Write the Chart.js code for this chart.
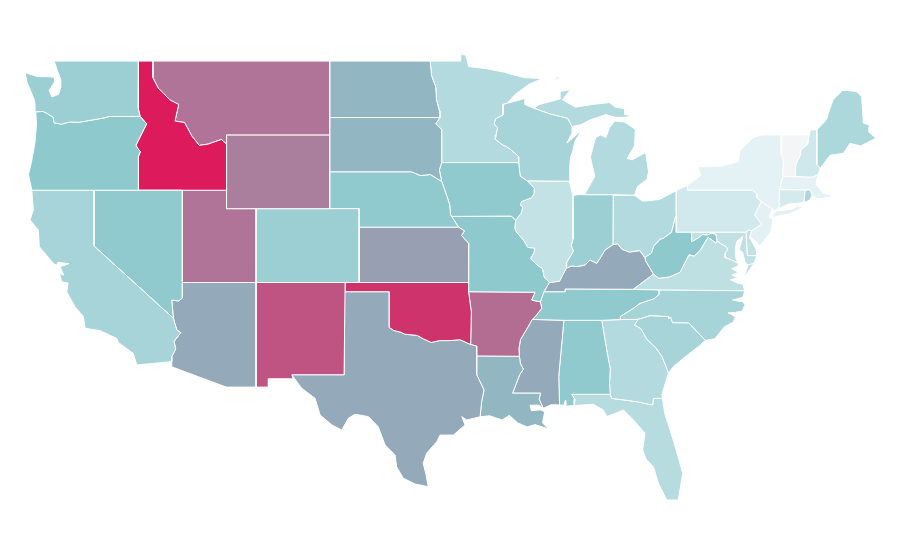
<!DOCTYPE html>
<html>
<head>
<meta charset="utf-8">
<title>US states</title>
<script src="https://cdn.jsdelivr.net/npm/chart.js@4"></script>
<style>
  html, body { margin: 0; padding: 0; background: #fff; }
  canvas { display: block; }
</style>
</head>
<body>
<canvas id="myChart" width="900" height="560"></canvas>
<script>
// shared borders, [lon, lat]
const redRiverN = [[-97.23,49],[-97.13,48.2],[-96.85,47.6],[-96.8,46.9],[-96.6,46.3],[-96.56,45.94]];
const sdMn = [[-96.56,45.94],[-96.85,45.6],[-96.45,45.3],[-96.45,43.5]];
const sdIa = [[-96.45,43.5],[-96.6,43.1],[-96.45,42.49]];
const neSd = [[-104.05,43],[-98.5,43],[-97.9,42.8],[-97.2,42.85],[-96.7,42.6],[-96.45,42.49]];
const neIa = [[-96.45,42.49],[-96.1,41.7],[-95.9,41.2],[-95.85,40.7],[-95.77,40.58]];
const neMo = [[-95.77,40.58],[-95.31,40]];
const ksMo = [[-95.31,40],[-94.9,39.8],[-95.1,39.55],[-94.61,39.11],[-94.62,37]];
const mnWi = [[-92.02,46.71],[-92.29,46.66],[-92.29,46.08],[-92.8,45.87],[-92.88,45.57],[-92.65,45.4],[-92.76,45],[-92.8,44.75],[-92.3,44.45],[-91.9,44.29],[-91.25,43.85],[-91.22,43.5]];
const iaWi = [[-91.22,43.5],[-91.15,43],[-91.1,42.75],[-90.64,42.51]];
const iaIl = [[-90.64,42.51],[-90.42,42.33],[-90.16,42.12],[-90.18,41.8],[-90.34,41.6],[-91.03,41.38],[-91.1,41.2],[-90.95,41.07],[-91.05,40.75],[-91.42,40.38]];
const moIl = [[-91.42,40.38],[-91.48,39.94],[-91.37,39.73],[-90.9,39.3],[-90.6,38.9],[-90.12,38.85],[-90.19,38.6],[-90.42,38.3],[-89.9,37.9],[-89.6,37.75],[-89.5,37.3],[-89.13,37]];
const arTn = [[-89.75,35.95],[-89.65,35.6],[-90.1,35.15],[-90.3,35]];
const arMs = [[-90.3,35],[-90.58,34.6],[-90.95,34.1],[-91.1,33.9],[-91.2,33.4],[-91.17,33]];
const laMs = [[-91.17,33],[-91.1,32.6],[-90.9,32.3],[-91.15,32],[-91.63,31],[-89.73,31],[-89.83,30.67],[-89.55,30.18]];
const wabash = [[-87.53,39.35],[-87.65,39],[-87.5,38.7],[-87.95,38.1],[-87.98,37.78]];
const inKy = [[-87.98,37.78],[-87.6,37.9],[-87.28,37.86],[-86.71,37.95],[-86.37,38.22],[-85.92,38.04],[-85.7,38.3],[-85.36,38.76],[-84.82,39.05]];
const ohKy = [[-84.82,39.05],[-84.5,39.1],[-84.2,38.8],[-83.7,38.65],[-83,38.73],[-82.65,38.35]];
const ohWv = [[-82.65,38.35],[-82.2,38.6],[-82.07,38.95],[-81.62,39.35],[-81.4,39.4],[-80.85,39.72],[-80.6,40.5],[-80.52,40.64]];
const potomacN = [[-79.48,39.2],[-78.95,39.45],[-78.75,39.6],[-78.4,39.57],[-78.1,39.67],[-77.83,39.6],[-77.75,39.25]];
const potomacS = [[-77.75,39.25],[-77.5,39.1],[-77.12,38.93],[-77.04,38.79],[-77.2,38.6],[-77.2,38.35],[-76.85,38.25],[-76.35,38.05]];
const vaWv = [[-77.75,39.25],[-77.83,39.13],[-78.36,39.45],[-78.87,38.77],[-79.3,38.42],[-79.65,38.5],[-80.26,37.55],[-80.95,37.3],[-81.7,37.22],[-82.07,37.45]];
const kyWv = [[-82.07,37.45],[-82.6,38.17],[-82.65,38.35]];
const tnNc = [[-81.7,36.59],[-81.7,36.35],[-82.03,36.12],[-82.98,35.87],[-83.5,35.57],[-84.33,35.15],[-84.32,34.99]];
const ncSc = [[-83.11,35],[-82.3,35.2],[-81.04,35.15],[-81.04,35.05],[-80.9,35.1],[-80.78,34.82],[-79.67,34.8],[-78.55,33.86]];
const gaSc = [[-83.11,35],[-83.35,34.7],[-82.9,34.48],[-82.55,33.95],[-81.9,33.45],[-81.5,33],[-81.15,32.3],[-81.06,32.08]];
const alGa = [[-85.58,34.95],[-85.24,33.34],[-85,32.3],[-85.05,31.55],[-85,30.94]];
const gaFl = [[-84.9,30.72],[-83.2,30.54],[-82.12,30.36],[-82.07,30.72],[-81.6,30.72],[-81.45,30.71]];
const alMs = [[-88.15,34.95],[-88.5,31.9],[-88.44,30.36]];
const alFl = [[-85,30.94],[-87.62,30.94],[-87.4,30.67],[-87.45,30.33]];
const columbia = [[-116.92,46],[-119,46],[-119.3,45.93],[-120,45.83],[-121.1,45.68],[-121.7,45.7],[-122.25,45.58],[-122.75,45.65],[-122.82,45.95],[-123.2,46.15],[-123.5,46.27],[-124,46.25]];
const snake = [[-116.92,46],[-116.47,45.6],[-116.85,45],[-117.2,44.44],[-117.05,44.23],[-116.9,44.1],[-117.03,43.83],[-117.03,42]];
const idMt = [[-116.05,49],[-116.05,48.1],[-115.7,47.55],[-114.9,46.9],[-114.3,46.65],[-114.55,45.75],[-113.9,45.67],[-113.4,44.93],[-112.9,44.43],[-112.3,44.5],[-111.4,44.75],[-111.05,44.5]];
const caAz = [[-114.66,35.06],[-114.43,34.43],[-114.16,34.28],[-114.62,33.8],[-114.5,33.4],[-114.77,32.98],[-114.77,32.71]];
const redRiverS = [[-100,34.56],[-99.7,34.4],[-99.2,34.3],[-98.95,34.2],[-98.1,34.13],[-97.7,33.95],[-97.15,33.75],[-96.6,33.85],[-95.9,33.85],[-95.2,33.9],[-94.48,33.64]];
const sabine = [[-94.07,33.02],[-94.07,32],[-93.57,31.17],[-93.73,30.55],[-93.84,29.72]];
const delaware = [[-75.35,42],[-75.05,41.8],[-75.05,41.6],[-74.75,41.38],[-75.05,40.9],[-75.2,40.65],[-74.72,40.15],[-75.4,39.8]];
const vtNh = [[-71.5,45],[-71.6,44.5],[-72.05,44.2],[-72.1,43.9],[-72.4,43.4],[-72.46,42.73]];
const back = (line) => [...line].reverse();

const stateNames = ["Washington","Oregon","California","Nevada","Idaho","Montana","Wyoming","Utah","Arizona","New Mexico","Colorado","North Dakota","South Dakota","Nebraska","Kansas","Oklahoma","Texas","Minnesota","Iowa","Missouri","Arkansas","Louisiana","Wisconsin","Illinois","Michigan","Indiana","Ohio","Kentucky","Tennessee","Mississippi","Alabama","Georgia","Florida","South Carolina","North Carolina","Virginia","West Virginia","Maryland","District of Columbia","Delaware","Pennsylvania","New Jersey","New York","Connecticut","Rhode Island","Massachusetts","Vermont","New Hampshire","Maine"];

const stateValues = [44,50,39,49,100,75,72,75,60,84,44,56,56,49,63,93,60,33,49,50,77,56,39,26,33,44,33,60,49,60,49,33,31,39,39,28,50,27,50,26,19,11,10,18,36,10,0,20,36];

// one list of rings per state, same order as stateNames
const stateShapes = [
  [[[-124.73,48.38],[-123.9,48.16],[-123.1,48.15],[-122.75,48.12],[-122.7,47.9],[-123.1,47.4],[-122.9,47.05],[-122.45,47.2],[-122.3,47.6],[-122.3,48],[-122.5,48.4],[-122.75,49],[-117.03,49],[-117.04,46.42],...columbia,[-124.05,46.65],[-124.1,46.9],[-124.3,47.3],[-124.6,47.85]]],
  [[...back(columbia),...snake,[-124.27,42],[-124.4,42.5],[-124.5,42.85],[-124.3,43.5],[-124.05,44.6],[-123.95,45.6]]],
  [[[-124.27,42],[-120.05,42],[-120.05,38.98],...caAz,[-117.15,32.53],[-117.38,33.16],[-118.4,33.75],[-118.5,33.97],[-119.64,34.39],[-120.65,34.52],[-120.77,35.15],[-121.34,35.69],[-121.9,36.5],[-121.8,36.97],[-122.24,37.04],[-122.4,37.5],[-122.1,37.4],[-122.35,37.85],[-121.75,38.02],[-122.5,38.1],[-122.58,37.92],[-122.81,38.04],[-123.76,38.94],[-123.83,39.85],[-124.39,40.39],[-124.17,40.93]]],
  [[[-120.05,42],[-114.05,42],[-114.05,36.16],[-114.32,36],[-114.77,36.05],[-114.66,35.06],[-120.05,38.98]]],
  [[[-117.03,49],...idMt,[-111.05,42],...back(snake),[-117.04,46.42]]],
  [[[-116.05,49],[-104.05,49],[-104.05,45],[-111.05,45],...back(idMt)]],
  [[[-111.05,45],[-104.05,45],[-104.05,41],[-111.05,41]]],
  [[[-114.05,42],[-111.05,42],[-111.05,41],[-109.05,41],[-109.05,37],[-114.05,37]]],
  [[[-114.05,37],[-109.05,37],[-109.05,31.33],[-111.07,31.33],[-114.77,32.43],...back(caAz),[-114.77,36.05],[-114.32,36],[-114.05,36.16]]],
  [[[-109.05,37],[-103,37],[-103.07,32],[-106.62,32],[-106.53,31.78],[-108.21,31.78],[-108.21,31.33],[-109.05,31.33]]],
  [[[-109.05,41],[-102.05,41],[-102.05,37],[-109.05,37]]],
  [[[-104.05,49],...redRiverN,[-104.05,45.94]]],
  [[[-104.05,45.94],...sdMn,...sdIa,...back(neSd)]],
  [[...neSd,...neIa,...neMo,[-102.05,40],[-102.05,41],[-104.05,41]]],
  [[[-102.05,40],...ksMo,[-102.05,37]]],
  [[[-103,37],[-94.62,37],[-94.62,36.5],[-94.43,35.4],...back(redRiverS),[-100,36.5],[-103,36.5]]],
  [[[-103.04,36.5],[-100,36.5],...redRiverS,[-94.07,33.55],...sabine,[-94.75,29.55],[-95.08,29.73],[-94.86,29.28],[-95.65,28.73],[-96.55,28.73],[-96.78,28.37],[-97.46,27.75],[-97.7,27.2],[-97.53,26.66],[-97.35,25.93],[-98.25,26.08],[-99.05,26.39],[-99.5,27],[-99.61,27.65],[-100.29,28.2],[-100.75,29.18],[-101.42,29.73],[-102.33,29.86],[-102.78,29.64],[-103.23,29],[-103.9,29.28],[-104.7,29.82],[-105.04,30.72],[-105.95,31.27],[-106.62,32],[-103.07,32]]],
  [[[-97.23,49],[-95.15,49],[-95.15,49.38],[-94.82,49.32],[-94.6,48.7],[-93.5,48.6],[-92.2,48.4],[-91.65,48.27],[-90.8,48.1],[-89.6,48.05],[-90.5,47.75],[-91.45,47.2],...mnWi,[-96.45,43.5],...back(sdMn),...back(redRiverN)]],
  [[[-96.45,43.5],[-91.22,43.5],...iaWi,...iaIl,[-91.73,40.6],[-95.77,40.58],...back(neIa),...back(sdIa)]],
  [[[-95.77,40.58],[-91.73,40.6],...moIl,[-89.5,36.5],[-89.75,35.95],[-90.33,36.05],[-90.1,36.47],[-94.62,36.5],...back(ksMo),...back(neMo)]],
  [[[-94.62,36.5],[-90.1,36.47],[-90.33,36.05],...arTn,...arMs,[-94.07,33.02],[-94.07,33.55],[-94.48,33.64],[-94.43,35.4]]],
  [[...back(sabine),...laMs,[-89.85,30.35],[-90.45,30.35],[-90.35,30.05],[-89.75,30.1],[-89.45,30],[-89.6,29.4],[-89.2,29.06],[-90.1,29.3],[-90.65,29.17],[-91.3,29.4],[-91.85,29.8],[-92.35,29.55],[-93.2,29.78]]],
  [[...mnWi,...iaWi,[-87.8,42.49],[-87.75,43.3],[-87.7,43.8],[-87.55,44.1],[-87.4,44.65],[-86.95,45.25],[-87.95,44.55],[-87.6,45.1],[-87.6,45.45],[-87.9,45.9],[-89.1,46.13],[-90.2,46.45],[-90.8,46.65],[-90.8,46.98],[-91.25,46.87]]],
  [[[-90.64,42.51],[-87.8,42.49],[-87.53,41.72],...wabash,[-88.45,37.07],[-89.13,37],...back(moIl),...back(iaIl)]],
  [
    [[-86.75,41.76],[-84.8,41.76],[-83.35,41.73],[-83.15,42.2],[-82.5,42.6],[-82.4,43],[-82.6,44.05],[-83.5,43.65],[-83.85,43.72],[-83.35,44.4],[-83.3,45.3],[-84.05,45.7],[-84.7,45.75],[-85.05,45.4],[-85.3,44.85],[-85.65,45],[-86,44.85],[-86.35,43.8],[-86.05,42.75]],
    [[-90.2,46.45],[-89.8,46.65],[-88.4,46.95],[-88.4,47.35],[-87.7,47.45],[-88.25,46.9],[-87.35,46.5],[-86.2,46.65],[-85.05,46.75],[-84.65,46.5],[-84,46.43],[-84,46.1],[-83.5,46.05],[-84,45.95],[-84.65,45.95],[-85.3,46.1],[-86.4,45.8],[-87,45.55],[-87.6,45.45],[-87.9,45.9],[-89.1,46.13]],
    [[-89.2,47.85],[-88.5,48.17],[-88.45,48.08]]
  ],
  [[[-87.53,41.72],[-87.2,41.76],[-84.8,41.76],[-84.82,39.05],...back(inKy),...back(wabash)]],
  [[[-84.8,41.72],[-83.35,41.73],[-82.8,41.4],[-81.65,41.5],[-80.52,41.98],[-80.52,40.64],...back(ohWv),...back(ohKy)]],
  [[...kyWv,...back(ohKy),...back(inKy),[-88.45,37.07],[-89.13,37],[-89.5,36.5],[-88.07,36.5],[-88.07,36.65],[-83.45,36.63]]],
  [[[-81.7,36.59],[-83.45,36.63],[-88.07,36.65],[-88.07,36.5],[-89.5,36.5],...arTn,[-88.15,34.95],[-85.58,34.95],...back(tnNc)]],
  [[[-90.3,35],...alMs,[-89,30.38],...back(laMs),...back(arMs)]],
  [[[-88.15,34.95],[-85.58,34.95],...alGa.slice(1),...alFl,[-87.95,30.3],[-88,30.6],[-88.07,30.6],[-88.12,30.35],...back(alMs).slice(0,2)]],
  [[[-85.58,34.95],[-84.32,34.99],...gaSc,[-81.2,31.7],[-81.5,30.9],...back(gaFl),...back(alGa)]],
  [[[-87.45,30.33],[-86.15,30.4],[-85.47,30.09],[-85.24,29.73],[-84.1,30.09],[-83.43,29.55],[-82.64,28.83],[-82.8,27.92],[-82.55,27.4],[-82.07,27.02],[-81.73,26.12],[-81.17,25.21],[-80.38,25.21],[-80.08,26.66],[-80.7,28.4],[-81.3,29.9],...back(gaFl),...alFl]],
  [[...ncSc,[-78.9,33.6],[-80.03,32.9],[-80.7,32.45],[-81.06,32.08],...back(gaSc)]],
  [[[-75.87,36.55],[-81.7,36.59],...tnNc,...ncSc,[-77.9,33.95],[-77.25,34.6],[-76.65,34.85],[-76.5,35.15],[-77,35.35],[-76.5,35.38],[-76.05,35.45],[-75.85,35.8],[-76,35.95],[-76.7,36.05],[-76,36.2]]],
  [
    [[-75.87,36.55],[-81.7,36.59],[-83.45,36.63],...back(vaWv),...potomacS,[-76.3,37.9],[-76.75,37.75],[-76.3,37.55],[-76.75,37.4],[-76.35,37.25],[-76.85,37.15],[-76.35,36.97],[-76,36.9]],
    [[-75.95,37.15],[-75.65,37.95],[-75.25,38.03],[-75.7,37.5]]
  ],
  [[...kyWv,...ohWv,[-80.52,39.72],[-79.48,39.72],...potomacN,...vaWv]],
  [[[-79.48,39.72],[-75.79,39.72],[-75.7,38.46],[-75.05,38.45],[-75.25,38.03],[-75.65,37.95],[-75.85,38.1],[-76,38.6],[-76.25,38.8],[-76.1,39.2],[-76,39.5],[-76.4,39.25],[-76.5,38.9],[-76.5,38.4],...back(potomacS),...back(potomacN)]],
  [[[-77.12,38.93],[-77.04,39],[-76.91,38.89],[-77.04,38.79]]],
  [[[-75.79,39.72],[-75.6,39.84],[-75.4,39.8],[-75.55,39.45],[-75.1,38.8],[-75.05,38.45],[-75.7,38.46]]],
  [[[-80.52,41.98],[-79.76,42.27],[-79.76,42],...delaware,[-75.6,39.84],[-75.79,39.72],[-80.52,39.72]]],
  [[[-74.75,41.38],[-74,40.98],[-74.2,40.55],[-73.95,40.4],[-74.1,39.75],[-74.85,38.97],[-75.25,39.3],[-75.55,39.5],[-75.4,39.8],[-74.72,40.15],[-75.2,40.65],[-75.05,40.9]]],
  [
    [[-79.76,42.27],[-78.85,42.8],[-79.05,43.27],[-77.5,43.3],[-76.3,43.55],[-76.2,44.15],[-75.3,44.85],[-74.7,45],[-73.35,45],[-73.4,44],[-73.25,43.6],[-73.3,42.75],[-73.5,42.05],[-73.55,41.3],[-73.48,41.21],[-73.65,41],[-73.8,40.85],[-74,40.98],[-74.75,41.38],[-75.05,41.6],[-75.05,41.8],[-75.35,42],[-79.76,42]],
    [[-74.03,40.6],[-73.75,40.87],[-72.6,40.98],[-72.3,41.15],[-71.87,41.07],[-72.8,40.72],[-73.9,40.55]]
  ],
  [[[-73.5,42.03],[-71.78,42.01],[-71.85,41.33],[-72.9,41.25],[-73.65,41],[-73.48,41.21],[-73.55,41.3]]],
  [[[-71.78,42.01],[-71.44,42.01],[-71.3,41.74],[-71.44,41.47],[-71.85,41.33]]],
  [[[-73.5,42.03],[-73.3,42.75],[-72.46,42.73],[-71.3,42.7],[-70.87,42.85],[-70.98,42.55],[-71,42.3],[-70.65,41.95],[-70.53,41.83],[-70.03,41.74],[-70.05,42.05],[-70.2,42.07],[-69.95,41.9],[-69.97,41.65],[-70.65,41.55],[-70.98,41.56],[-71.3,41.74],[-71.44,42.01],[-71.78,42.01]]],
  [[[-73.35,45],...vtNh,[-73.3,42.75],[-73.25,43.6],[-73.4,44]]],
  [[[-71.5,45],[-71.4,45.27],[-70.98,45.27],[-70.98,43.4],[-70.75,43.19],[-70.87,42.85],[-71.3,42.7],...back(vtNh)]],
  [[[-70.98,45.27],[-70.4,45.75],[-70.25,45.95],[-70.2,46.17],[-69.87,46.9],[-69.21,47.43],[-68.3,47.35],[-67.93,47.07],[-67.82,45.64],[-67.41,45.53],[-67.47,45.17],[-66.96,44.82],[-68,44.4],[-68.73,44.54],[-69.18,44],[-70.07,43.9],[-70.75,43.19],[-70.98,43.4]]]
];

// colour scale: value -> colour
const scaleValues = [0, 10, 50, 60, 100];
const scaleColors = [[244,245,246],[229,242,245],[142,201,205],[148,170,186],[220,26,92]];

function colorFor(value) {
  let i = 0;
  while (i < scaleValues.length - 2 && value > scaleValues[i + 1]) i++;
  const t = (value - scaleValues[i]) / (scaleValues[i + 1] - scaleValues[i]);
  const rgb = scaleColors[i].map((c, k) => Math.round(c + (scaleColors[i + 1][k] - c) * t));
  return `rgb(${rgb.join(",")})`;
}

const datasets = [];
stateShapes.forEach((rings, s) => {
  rings.forEach((ring) => {
    const points = ring.map((p) => ({ x: p[0], y: p[1] }));
    points.push(points[0]);
    datasets.push({
      label: stateNames[s],
      data: points,
      showLine: true,
      fill: "shape",
      backgroundColor: colorFor(stateValues[s]),
      borderColor: "#ffffff",
      borderWidth: 1,
      pointRadius: 0,
      tension: 0,
    });
  });
});

new Chart(document.getElementById("myChart"), {
  type: "scatter",
  data: { datasets: datasets },
  options: {
    responsive: false,
    animation: false,
    layout: { padding: 0 },
    plugins: { legend: { display: false } },
    scales: {
      x: { type: "linear", display: false, min: -126.43, max: -65.33 },
      y: { type: "linear", display: false, min: 21.96, max: 52.31 },
    },
  },
});
</script>
</body>
</html>
